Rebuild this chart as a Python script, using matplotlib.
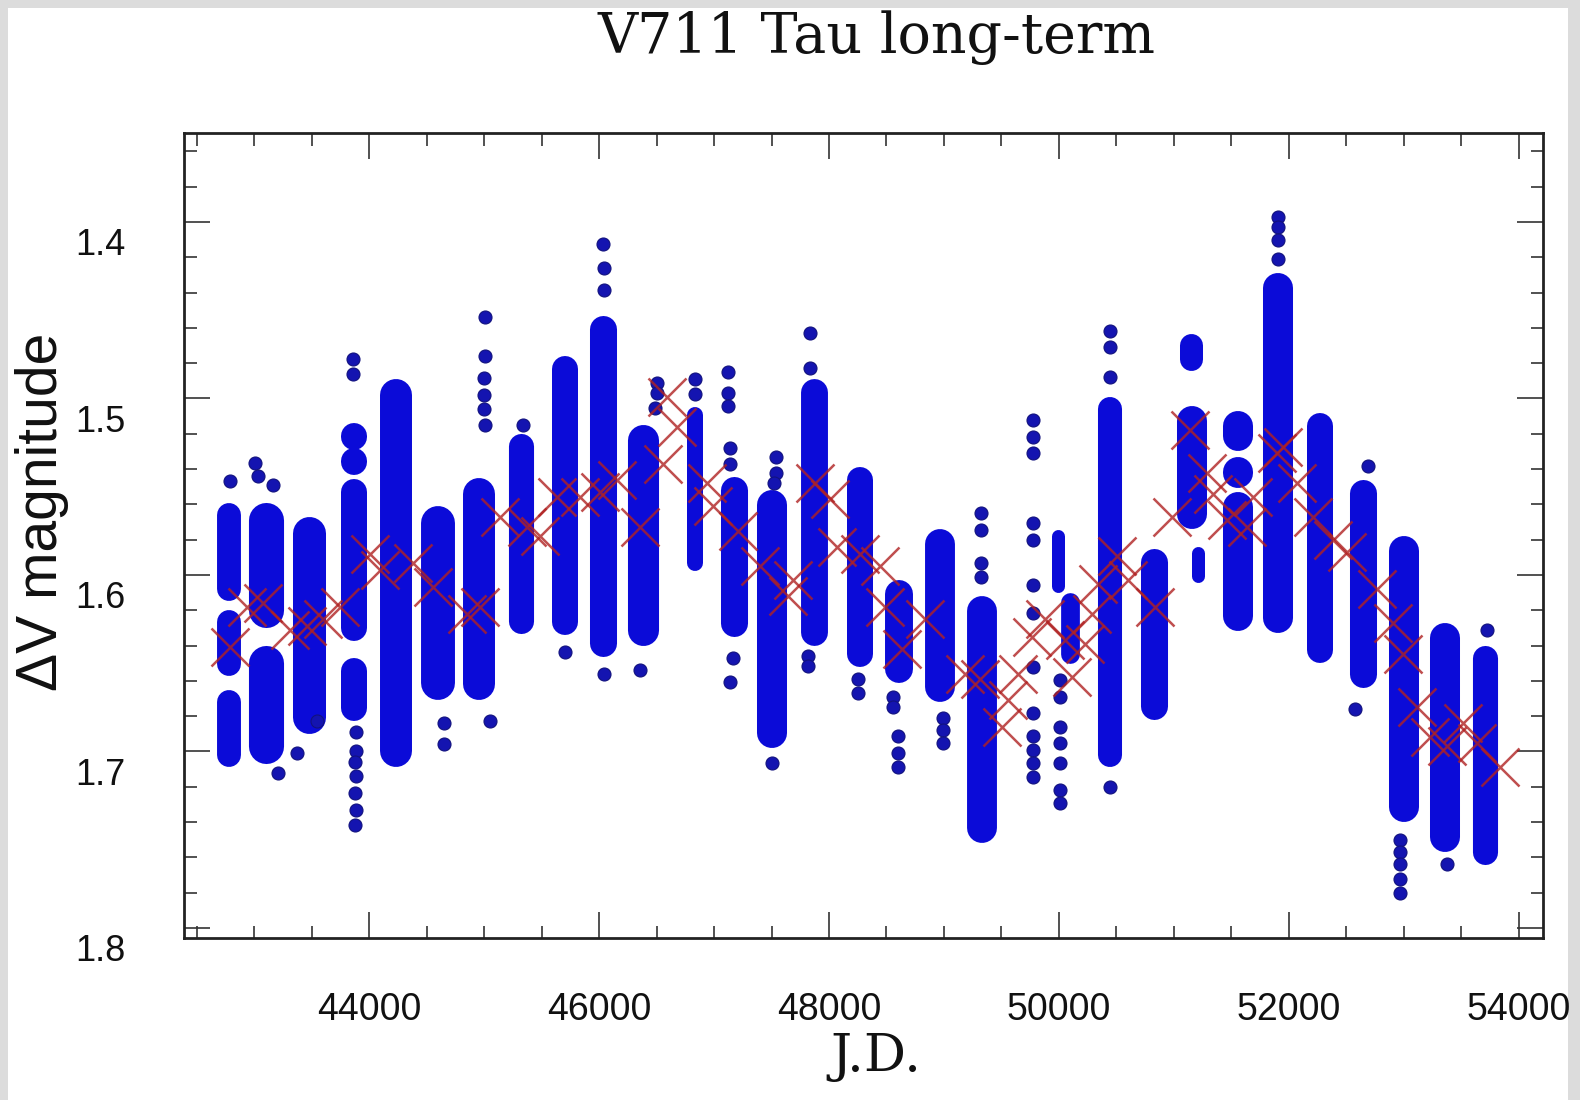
import matplotlib
matplotlib.use("Agg")
import matplotlib.pyplot as plt
from matplotlib.patches import Rectangle
from matplotlib.ticker import MultipleLocator
from matplotlib.transforms import ScaledTranslation

# ---------------- data ----------------
# observing seasons: JD span of the dense point clouds and their magnitude extents
season_start = [42735, 43004, 43387, 43813, 44152, 44509, 44874, 44970, 45265, 45648,
                45978, 46300, 46822, 47109, 47431, 47805, 48213, 48544, 48892, 49257,
                49992, 50070, 50396, 50761, 51083, 51105, 51209, 51483, 51831, 52213,
                52587, 52922, 53287, 53648]
season_end = [42830, 43196, 43561, 43926, 44317, 44691, 45039, 45010, 45370, 45761,
              46100, 46457, 46848, 47231, 47579, 47926, 48326, 48674, 49039, 49404,
              49992, 50120, 50492, 50883, 51231, 51192, 51209, 51631, 51979, 52326,
              52709, 53070, 53435, 53753]
season_segments = [
    [(1.559, 1.615), (1.620, 1.657), (1.665, 1.709)],
    [(1.559, 1.630), (1.640, 1.707)],
    [(1.567, 1.690)],
    [(1.4985, 1.511), (1.517, 1.526), (1.532, 1.5395), (1.5455, 1.6375), (1.647, 1.683)],
    [(1.489, 1.709)],
    [(1.561, 1.671)],
    [(1.545, 1.671)],
    [(1.531, 1.541)],
    [(1.520, 1.633)],
    [(1.476, 1.634)],
    [(1.453, 1.646)],
    [(1.515, 1.640)],
    [(1.505, 1.598)],
    [(1.544, 1.635)],
    [(1.552, 1.698)],
    [(1.489, 1.640)],
    [(1.539, 1.652)],
    [(1.603, 1.661)],
    [(1.574, 1.672)],
    [(1.612, 1.752)],
    [(1.5745, 1.610)],
    [(1.610, 1.650)],
    [(1.499, 1.709)],
    [(1.585, 1.682)],
    [(1.504, 1.574)],
    [(1.463, 1.484), (1.490, 1.498)],
    [(1.584, 1.604)],
    [(1.507, 1.530), (1.535, 1.549), (1.553, 1.632)],
    [(1.429, 1.633)],
    [(1.508, 1.650)],
    [(1.546, 1.664)],
    [(1.578, 1.740)],
    [(1.627, 1.757)],
    [(1.640, 1.764)],
]

# isolated observations
dot_jd = [42790, 43009, 43035, 43165, 43209, 43374, 43548,
          43861, 43861, 43890, 43890, 43880, 43890, 43880, 43890, 43880,
          44650, 44650,
          45009, 45009, 45000, 45000, 45000, 45009, 45052,
          45339, 45704,
          46035, 46040, 46040, 46040,
          46504, 46504, 46490, 46357,
          46835, 46835,
          47122, 47122, 47122, 47140, 47140, 47165, 47140,
          47539, 47539, 47520, 47505,
          47835, 47835, 47820, 47820,
          48252, 48252,
          48557, 48557, 48600, 48600, 48600,
          48991, 48991, 48991,
          49322, 49322, 49322, 49322,
          49774, 49774, 49774, 49774, 49774, 49774, 49774, 49774, 49774, 49774, 49774, 49774, 49774,
          50009, 50009, 50009, 50009, 50009, 50009, 50009,
          50444, 50444, 50444, 50444,
          51905, 51905, 51905, 51905,
          52687, 52574,
          52966, 52966, 52966, 52966, 52966,
          53374, 53722]
dot_mag = [1.547, 1.5365, 1.544, 1.549, 1.712, 1.701, 1.683,
           1.4775, 1.486, 1.689, 1.700, 1.706, 1.714, 1.7235, 1.733, 1.7415,
           1.684, 1.696,
           1.454, 1.476, 1.4885, 1.498, 1.506, 1.515, 1.683,
           1.515, 1.6435,
           1.4125, 1.426, 1.4385, 1.656,
           1.491, 1.497, 1.5055, 1.654,
           1.489, 1.4975,
           1.485, 1.497, 1.5045, 1.528, 1.537, 1.647, 1.6605,
           1.533, 1.542, 1.548, 1.7065,
           1.463, 1.483, 1.646, 1.6515,
           1.659, 1.667,
           1.669, 1.675, 1.6915, 1.701, 1.709,
           1.681, 1.688, 1.695,
           1.565, 1.5745, 1.593, 1.601,
           1.512, 1.522, 1.531, 1.5705, 1.580, 1.6055, 1.6215, 1.652, 1.678, 1.6915, 1.699, 1.7065, 1.7145,
           1.6595, 1.669, 1.686, 1.695, 1.7065, 1.722, 1.729,
           1.462, 1.471, 1.488, 1.720,
           1.397, 1.403, 1.410, 1.421,
           1.538, 1.676,
           1.750, 1.757, 1.764, 1.772, 1.780,
           1.764, 1.631]

# seasonal means (red crosses)
mean_jd = [42791, 42939, 43078, 43313, 43461, 43600, 43748, 44009, 44096, 44383,
           44557, 44852, 44965, 45139, 45374, 45487, 45635, 45835, 46009, 46157,
           46357, 46591, 46678, 46557, 46939, 46991, 47209, 47400, 47644, 47687,
           47878, 48009, 48070, 48270, 48444, 48487, 48635, 48835, 49183, 49313,
           49505, 49557, 49644, 49765, 49879, 50052, 50113, 50226, 50287, 50339,
           50505, 50600, 50835, 50983, 51139, 51287, 51339, 51461, 51635, 51687,
           51896, 51948, 52070, 52209, 52383, 52505, 52766, 52905, 52992, 53113,
           53226, 53374, 53513, 53635, 53835]
mean_mag = [1.641, 1.618, 1.616, 1.631, 1.629, 1.625, 1.618, 1.588, 1.597, 1.593,
            1.607, 1.622, 1.618, 1.567, 1.573, 1.578, 1.556, 1.556, 1.553, 1.546,
            1.573, 1.499, 1.516, 1.537, 1.548, 1.561, 1.575, 1.595, 1.612, 1.603,
            1.548, 1.557, 1.584, 1.588, 1.595, 1.618, 1.642, 1.625, 1.656, 1.659,
            1.686, 1.671, 1.656, 1.635, 1.625, 1.637, 1.658, 1.639, 1.622, 1.605,
            1.589, 1.603, 1.618, 1.567, 1.518, 1.542, 1.554, 1.569, 1.573, 1.556,
            1.531, 1.5275, 1.548, 1.567, 1.580, 1.587, 1.608, 1.627, 1.645, 1.675,
            1.692, 1.697, 1.684, 1.695, 1.709]

xtick_values = [44000, 46000, 48000, 50000, 52000, 54000]
xtick_labels = ["44000", "46000", "48000", "50000", "52000", "54000"]
ytick_values = [1.4, 1.5, 1.6, 1.7, 1.8]
ytick_labels = ["1.4", "1.5", "1.6", "1.7", "1.8"]

title_text = "V711 Tau long-term"
xlabel_text = "J.D."
ylabel_text = "\u0394V magnitude"

# ---------------- figure ----------------
W_PX, H_PX, DPI = 1580, 1100, 100
fig = plt.figure(figsize=(W_PX / DPI, H_PX / DPI), dpi=DPI, facecolor="#dcdcdc")
fig.patches.append(Rectangle((8 / W_PX, 0), (W_PX - 20) / W_PX, (H_PX - 8) / H_PX,
                             transform=fig.transFigure, facecolor="white",
                             edgecolor="none", zorder=-10))

ax_left, ax_right, ax_top, ax_bottom = 184, 1543, 133, 938
ax = fig.add_axes([ax_left / W_PX, 1 - ax_bottom / H_PX,
                   (ax_right - ax_left) / W_PX, (ax_bottom - ax_top) / H_PX])
XLIM = (42391, 54209)
YLIM = (1.8057, 1.3496)
ax.set_xlim(*XLIM)
ax.set_ylim(*YLIM)

BLUE = "#0b0bd8"
DOT_FACE = "#1414b0"
NAVY = "#12127e"
DOT_PX = 13.0
px_per_day = (ax_right - ax_left) / (XLIM[1] - XLIM[0])
px_per_mag = (ax_bottom - ax_top) / (YLIM[0] - YLIM[1])

for s, e, segs in zip(season_start, season_end, season_segments):
    x = 0.5 * (s + e)
    width_px = (e - s) * px_per_day + DOT_PX
    lw_pt = width_px * 72.0 / DPI
    hw_mag = 0.5 * width_px / px_per_mag
    for top, bot in segs:
        y0, y1 = top + hw_mag, bot - hw_mag
        if y1 <= y0:
            mid = 0.5 * (top + bot)
            y0, y1 = mid - 1e-4, mid + 1e-4
        ax.plot([x, x], [y0, y1], color=BLUE, lw=lw_pt,
                solid_capstyle="round", zorder=2)

ax.scatter(dot_jd, dot_mag, s=(DOT_PX * 72.0 / DPI) ** 2, c=DOT_FACE,
           edgecolors=NAVY, linewidths=0.8, zorder=3)

ax.plot(mean_jd, mean_mag, linestyle="none", marker="x", ms=27, mew=1.8,
        color="#b02222", alpha=0.8, zorder=5)

# ---------------- axes styling ----------------
for sp in ax.spines.values():
    sp.set_linewidth(2.0)
    sp.set_color("#222222")

ax.set_xticks(xtick_values)
ax.set_xticklabels(xtick_labels)
ax.set_yticks(ytick_values)
ax.set_yticklabels(ytick_labels)
ax.xaxis.set_minor_locator(MultipleLocator(500))
ax.yaxis.set_minor_locator(MultipleLocator(0.02))
ax.tick_params(which="both", direction="in", top=True, right=True, color="#333333", width=1.2)
ax.tick_params(which="major", length=19)
ax.tick_params(which="minor", length=9)
ax.tick_params(axis="x", which="major", pad=39)
ax.tick_params(axis="y", which="major", pad=42)
for lab in ax.get_xticklabels():
    lab.set_family(["Liberation Sans", "DejaVu Sans"])
    lab.set_fontsize(27)
    lab.set_color("#111111")
for lab in ax.get_yticklabels():
    lab.set_family(["Liberation Sans", "DejaVu Sans"])
    lab.set_fontsize(26)
    lab.set_color("#111111")
shift = ScaledTranslation(0, -20 / DPI, fig.dpi_scale_trans)
for lab in ax.get_yticklabels():
    lab.set_transform(lab.get_transform() + shift)

fig.text(877 / W_PX, 1 - 38 / H_PX, title_text, ha="center", va="center",
         family=["DejaVu Serif"], fontsize=40, color="#111111")
fig.text(876 / W_PX, 1 - 1056 / H_PX, xlabel_text, ha="center", va="center",
         family=["DejaVu Serif"], fontsize=38, color="#111111")
fig.text(42 / W_PX, 1 - 512 / H_PX, ylabel_text, ha="center", va="center",
         rotation=90, family=["Liberation Sans", "DejaVu Sans"], fontsize=41, color="#111111")

fig.savefig("out.png", dpi=DPI, facecolor=fig.get_facecolor())
